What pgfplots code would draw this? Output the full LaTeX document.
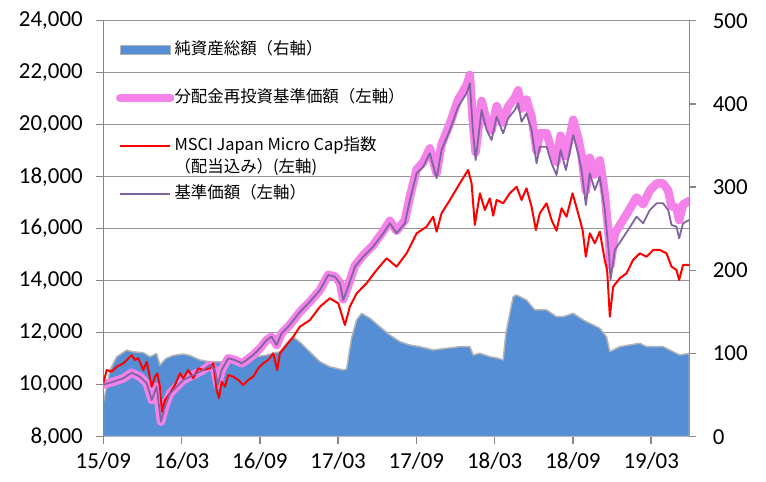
\documentclass[border=0pt]{standalone}
\usepackage{fontspec}
\setmainfont{Carlito}
\newfontfamily\cjk{Noto Sans CJK JP}
\usepackage{pgfplots}
\usepackage{pgfplotstable}
\pgfplotsset{compat=1.18}
\definecolor{areablue}{RGB}{85,142,213}
\definecolor{areagray}{RGB}{180,180,180}
\definecolor{axgray}{RGB}{134,134,134}
\definecolor{gridgray}{RGB}{150,150,150}
\definecolor{pinkline}{RGB}{245,130,232}
\definecolor{purpleline}{RGB}{128,100,162}
\pgfplotsset{arealeg/.style={legend image code/.code={\draw[##1] (0bp,-4.5bp) rectangle (50bp,4.5bp);}}}

\pgfplotstableread{
m v
0 40
0.09 48
0.26 60
0.51 80
1.03 96
1.79 104
2.30 102
3.07 101
3.58 96
4.09 100
4.34 86
4.80 94
5.36 97.6
6.13 99.4
6.64 97.6
7.41 92.2
8.18 90.1
9.33 89.8
10.46 92.2
11.75 96.2
12.52 98.2
13.54 102.2
14.05 112.3
14.31 116.2
14.56 119.8
15.07 113.8
15.84 101.8
16.61 90.1
17.36 84.1
18.39 80.2
18.65 81.4
19.03 118.6
19.42 140.3
19.80 148.3
20.44 142.3
21.20 132.2
21.97 122.2
22.73 114.2
23.50 110.2
24.27 108.2
25.29 104.2
26.31 106.3
27.33 108.2
28.10 108.4
28.35 98.2
28.87 100.2
29.63 96.2
30.27 94.2
30.65 92.2
30.86 124.3
31.16 148.3
31.42 168.3
31.68 170.3
32.44 164.3
33.08 152.3
33.98 152.3
34.74 144.2
35.25 144.2
36.02 148.3
36.78 140.3
37.29 136.3
38.06 130.3
38.57 120.2
38.83 102.2
39.59 108.2
41.13 112.3
41.64 108.2
42.91 108.2
43.68 102.2
44.19 98.2
44.92 100.2
}\netassets

\pgfplotstableread{
m v
0 10050
0.26 10565
0.64 10500
1.03 10690
1.53 10820
2.18 11140
2.43 10950
2.68 11015
3.07 10565
3.33 10885
3.71 9923
3.96 10308
4.14 10438
4.34 9923
4.50 8962
4.73 9412
5.11 9669
5.49 9988
5.88 10438
6.13 10246
6.51 10565
6.90 10246
7.28 10631
7.66 10565
8.18 10631
8.43 10823
8.69 9796
8.87 9477
9.07 10115
9.33 9923
9.58 10373
9.96 10308
10.34 10181
10.73 9988
11.11 10181
11.49 10308
11.88 10631
12.26 10823
12.64 10950
13.03 11208
13.33 10565
13.54 11208
14.05 11527
14.56 11846
15.07 12230
15.84 12488
16.61 13000
17.36 13323
18.01 13131
18.52 12296
18.90 13000
19.42 13515
20.18 13900
20.95 14412
21.72 14862
22.48 14538
23.25 15054
24.02 15823
24.78 16077
25.29 16462
25.55 15885
25.93 16592
26.57 17104
27.33 17746
27.97 18258
28.23 17746
28.48 16142
28.87 17362
29.25 16719
29.63 17170
29.89 16500
30.15 17104
30.65 16977
31.16 17362
31.68 17615
32.06 17104
32.44 17554
32.83 16846
33.16 15950
33.46 16592
33.98 16977
34.36 16335
34.74 15923
35.13 16785
35.51 16462
35.97 17362
36.40 16592
36.74 15950
36.99 14923
37.29 15823
37.68 15438
38.06 15885
38.44 14796
38.62 14412
38.83 12615
39.08 13769
39.59 14092
40.11 14285
40.61 14796
41.13 15054
41.64 14923
42.15 15181
42.66 15181
43.17 15054
43.56 14538
43.94 14412
44.14 14027
44.44 14604
44.92 14604
}\msci

\pgfplotstableread{
m v
0 10000
0.77 10115
1.53 10246
2.18 10462
2.81 10308
3.33 10054
3.71 9412
4.09 9923
4.42 8577
4.73 9154
5.11 9669
5.62 9923
6.13 10181
6.64 10308
7.16 10438
7.66 10565
8.18 10758
8.56 10565
8.77 9988
9.07 10565
9.58 11015
10.09 10950
10.61 10823
10.99 10950
11.49 11142
12.01 11400
12.52 11719
12.90 11846
13.29 11527
13.67 11977
14.18 12231
14.69 12554
15.07 12800
15.84 13192
16.61 13642
17.24 14219
17.75 14154
18.14 13900
18.39 13258
18.77 13769
19.29 14538
19.92 14923
20.69 15308
21.46 15823
21.97 16208
22.48 15823
23.12 16208
23.50 17104
24.02 18131
24.52 18385
25.03 18900
25.55 17938
25.93 19027
26.57 19796
27.20 20692
27.85 21208
28.10 21592
28.31 19923
28.54 18642
29.00 20565
29.38 19796
29.76 19412
30.15 20308
30.65 19669
31.03 20246
31.55 20565
31.80 20823
32.06 20115
32.44 20438
32.83 19796
33.21 18515
33.46 19154
33.98 19154
34.36 18515
34.74 18065
35.05 19027
35.46 18258
36.02 19604
36.40 18900
36.66 18258
36.99 16912
37.29 18131
37.68 17488
38.06 18000
38.44 16719
38.77 14988
38.88 14027
39.21 15181
39.72 15565
40.23 15950
40.87 16462
41.38 16208
41.89 16719
42.41 16977
42.91 16977
43.30 16719
43.56 16142
43.94 16077
44.14 15631
44.44 16208
44.92 16335
}\nav

\pgfplotstableread{
m v
0 10000
0.77 10115
1.53 10246
2.18 10462
2.81 10308
3.33 10054
3.71 9412
4.09 9923
4.42 8577
4.73 9154
5.11 9669
5.62 9923
6.13 10181
6.64 10308
7.16 10438
7.66 10565
8.18 10758
8.56 10565
8.77 9988
9.07 10565
9.58 11015
10.09 10950
10.61 10823
10.99 10950
11.49 11142
12.01 11400
12.52 11719
12.90 11846
13.29 11527
13.67 11977
14.18 12231
14.69 12554
15.07 12800
15.84 13192
16.61 13642
17.24 14225
17.75 14168
18.14 13921
18.39 13285
18.77 13797
19.29 14582
19.92 14975
20.69 15369
21.46 15902
21.97 16300
22.48 15918
23.12 16321
23.50 17232
24.02 18276
24.52 18550
25.03 19089
25.55 18135
25.93 19246
26.57 20043
27.20 20961
27.85 21515
28.10 21916
28.31 20232
28.54 18940
29.00 20915
29.38 20152
29.76 19781
30.15 20714
30.65 20082
31.03 20691
31.55 21038
31.80 21323
32.06 20618
32.44 20969
32.83 20311
33.21 18996
33.46 19671
33.98 19671
34.36 19033
34.74 18571
35.05 19579
35.46 18787
36.02 20192
36.40 19486
36.66 18824
36.99 17453
37.29 18729
37.68 18083
38.06 18630
38.44 17338
38.77 15588
38.88 14588
39.21 15819
39.72 16234
40.23 16652
40.87 17203
41.38 16937
41.89 17471
42.41 17741
42.91 17741
43.30 17471
43.56 16868
43.94 16800
44.14 16334
44.44 16937
44.92 17070
}\navreinv

\begin{document}
\begin{tikzpicture}
\useasboundingbox (0,0) rectangle (766bp,482bp);
% right axis: net assets, grid, x axis
\begin{axis}[
  at={(103.3bp,45.3bp)}, anchor=south west,
  scale only axis, width=586bp, height=416bp,
  xmin=0, xmax=44.92, ymin=0, ymax=500,
  axis x line*=bottom, axis y line*=right,
  axis line style={draw=axgray, line width=1.5bp},
  tick align=outside, major tick length=7bp,
  tick style={draw=axgray, line width=1.5bp},
  xtick={0,6,...,42},
  xticklabels={15/09,16/03,16/09,17/03,17/09,18/03,18/09,19/03},
  ytick={0,100,...,500},
  extra y ticks={62.5,125,187.5,250,312.5,375,437.5,500},
  extra y tick labels={},
  extra y tick style={grid=major, major tick length=0pt},
  major grid style={draw=gridgray, line width=1.5bp},
  tick label style={font=\fontsize{23}{27}\selectfont},
  xticklabel style={yshift=-5bp},
  yticklabel style={xshift=13bp},
  /pgf/number format/assume math mode=true,
]
\addplot[fill=areablue, draw=areagray, line width=1.5bp, line join=round] table[x=m,y=v] {\netassets} \closedcycle;
\end{axis}
% left axis: lines
\begin{axis}[
  at={(103.3bp,45.3bp)}, anchor=south west,
  scale only axis, width=586bp, height=416bp,
  xmin=0, xmax=44.92, ymin=8000, ymax=24000,
  axis x line=none, axis y line*=left,
  axis line style={draw=axgray, line width=1.5bp},
  tick align=outside, major tick length=7bp,
  tick style={draw=axgray, line width=1.5bp},
  ytick={8000,10000,...,24000},
  scaled y ticks=false,
  yticklabel style={/pgf/number format/1000 sep={,}, xshift=-10bp},
  tick label style={font=\fontsize{23}{27}\selectfont},
  /pgf/number format/assume math mode=true,
  legend style={at={(axis description cs:0.0217,0.9476)}, anchor=north west,
    draw=none, fill=none, inner sep=0pt, outer sep=0pt,
    row sep=33bp, column sep=0bp,
    font=\cjk\fontsize{16.5}{19}\selectfont,
    nodes={inner sep=0pt, text height=12bp, text depth=3bp}},
  legend cell align=left,
  legend image code/.code={\draw[#1] (0bp,0bp) -- (50bp,0bp);},
]
\addlegendimage{arealeg, fill=areablue, draw=areagray, line width=1.5bp}
\addplot[pinkline, line width=8.5bp, line join=round, line cap=round] table[x=m,y=v] {\navreinv};
\addplot[red, line width=2bp, line join=round] table[x=m,y=v] {\msci};
\addplot[purpleline, line width=1.8bp, line join=round] table[x=m,y=v] {\nav};
\legend{{純資産総額（右軸）},{分配金再投資基準価額（左軸）},{\smash{\rlap{\raisebox{-22bp}{（配当込み）(左軸)}}}MSCI Japan Micro Cap指数},{基準価額（左軸）}}
\end{axis}
\end{tikzpicture}
\end{document}
